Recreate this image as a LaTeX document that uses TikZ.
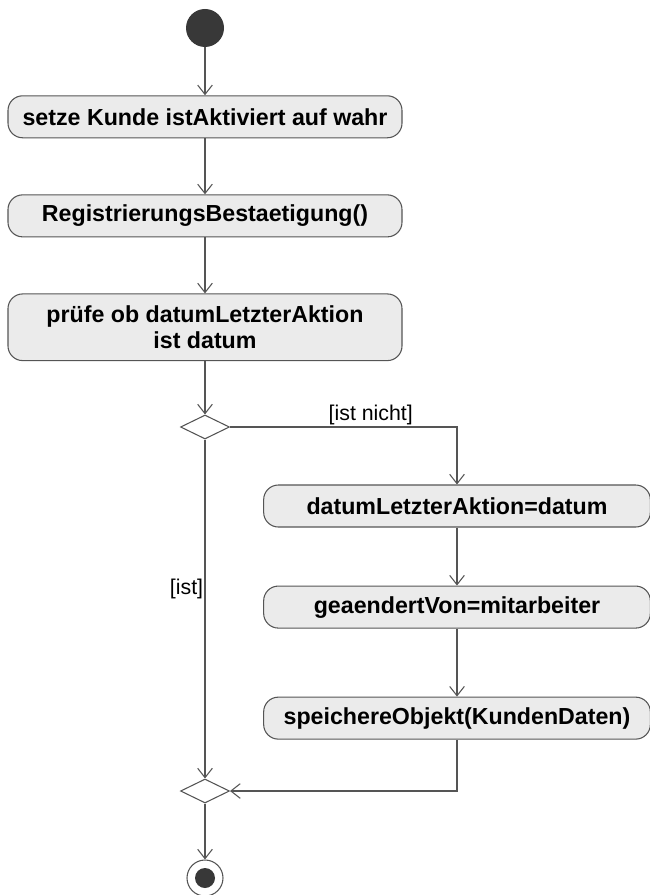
\documentclass[tikz,border=0pt]{standalone}
\usepackage{fontspec}
\setmainfont{Liberation Sans}
\usepackage{xcolor}
\usetikzlibrary{positioning,arrows.meta,shapes.geometric}
\definecolor{actfill}{HTML}{EBEBEB}
\definecolor{umlline}{HTML}{555555}
\definecolor{umldot}{HTML}{383838}
\tikzset{
  act/.style     ={draw=umlline, rectangle, rounded corners=11pt, align=center, fill=actfill, line width=0.8pt, minimum height=31.5pt, minimum width=295.5pt, font=\fontsize{17.4}{19}\selectfont\bfseries, text=black, inner sep=2pt},
  actr/.style    ={act, minimum width=290pt},
  decide/.style  ={draw=umlline, diamond, line width=0.8pt, fill=white, minimum width=36.75pt, minimum height=18pt, inner sep=0pt},
  startnode/.style={circle, fill=umldot, minimum size=28.5pt, inner sep=0pt},
  endnode/.style ={circle, draw=umlline, line width=0.8pt, fill=white, minimum size=27pt, inner sep=0pt},
  guard/.style   ={font=\fontsize{16}{18}\selectfont, text=black, inner sep=1pt},
  arr/.style     ={-{Straight Barb[length=7pt, width=11pt]}, umlline, line width=0.8pt},
}

\begin{document}
\begin{tikzpicture}[x=0.75pt, y=-0.75pt, node distance=42pt]
  \useasboundingbox (0,0) rectangle (649,895);
  \node[startnode] (start) at (205,28) {};
  \node[act, below=36pt of start] (aktiv) {setze Kunde istAktiviert auf wahr};
  \node[act, below=of aktiv] (best) {RegistrierungsBestaetigung()};
  \node[act, below=of best, minimum height=50pt] (pruef) {prüfe ob datumLetzterAktion\\ist datum};
  \node[decide] (dec) at (205,427) {};
  \node[actr] (datum) at (457,506) {datumLetzterAktion=datum};
  \node[actr, below=43.5pt of datum] (geaend) {geaendertVon=mitarbeiter};
  \node[actr, below=51pt of geaend] (speich) {speichereObjekt(KundenDaten)};
  \node[decide] (merge) at (205,791) {};
  \node[endnode] (ende) at (205,878) {};
  \fill[umldot] (ende) circle (7.5pt);

  \draw[arr] (start) -- (aktiv);
  \draw[arr] (aktiv) -- (best);
  \draw[arr] (best) -- (pruef);
  \draw[arr] (pruef) -- (dec);
  \draw[arr] (dec.east) -| node[guard, pos=0.31, above] {[ist nicht]} (datum.north);
  \draw[arr] (datum) -- (geaend);
  \draw[arr] (geaend) -- (speich);
  \draw[arr] (dec.south) -- node[guard, pos=0.44, left] {[ist]} (merge.north);
  \draw[arr] (speich.south) |- (merge.east);
  \draw[arr] (merge) -- (ende);
\end{tikzpicture}
\end{document}
